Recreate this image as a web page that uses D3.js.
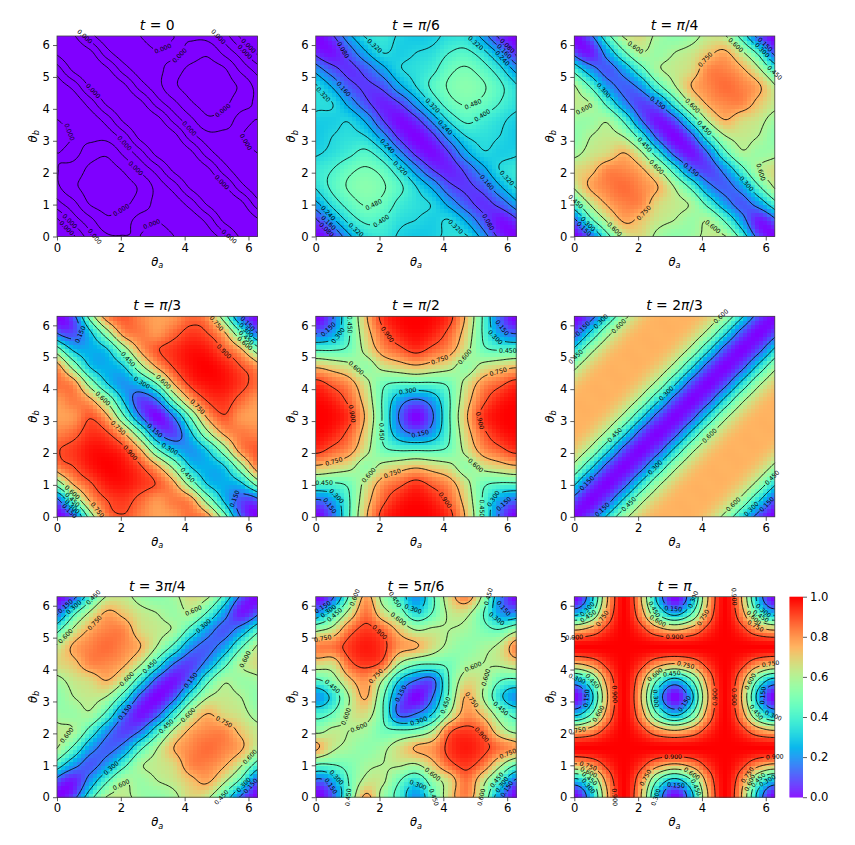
<!DOCTYPE html>
<html>
<head>
<meta charset="utf-8">
<script src="https://cdn.jsdelivr.net/npm/d3@7"></script>
<style>
body { margin: 0; background: white; }
text { font-family: "DejaVu Sans", sans-serif; }
</style>
</head>
<body>
<div id="chart"></div>
<script>
// every table: one list per theta_a column (0 to 2pi in steps of pi/6), theta_b rising
// t = 0 is all about 1e-16 in the original, so it is kept in relative units
var valuesT0 = [
    [0,.07,.21,.305,.318,.32,.36,.32,.31,.29,.20,.065,0],
    [.07,.20,.30,.385,.35,.30,.315,.28,.29,.21,.06,.02,.065],
    [.21,.30,.41,.43,.42,.36,.30,.28,.20,.065,.015,.06,.20],
    [.305,.385,.43,.46,.43,.385,.29,.20,.06,.01,.065,.21,.29],
    [.318,.35,.42,.43,.39,.30,.20,.06,.01,.06,.20,.29,.31],
    [.32,.30,.36,.385,.30,.19,.05,.005,.06,.20,.28,.28,.32],
    [.36,.315,.30,.29,.20,.05,0,.05,.20,.29,.30,.315,.36],
    [.32,.28,.28,.20,.06,.005,.05,.19,.30,.385,.36,.30,.32],
    [.31,.29,.20,.06,.01,.06,.20,.30,.39,.43,.42,.35,.318],
    [.29,.21,.065,.01,.06,.20,.29,.385,.43,.46,.43,.385,.305],
    [.20,.06,.015,.065,.20,.28,.30,.36,.42,.43,.41,.30,.21],
    [.065,.02,.06,.21,.29,.28,.315,.30,.35,.385,.30,.20,.07],
    [0,.065,.20,.29,.31,.32,.36,.32,.318,.305,.21,.07,0]
];
var valuesPi6 = [
    [0,.07,.22,.33,.36,.31,.29,.30,.34,.33,.21,.06,0],
    [.07,.22,.35,.42,.40,.34,.32,.30,.32,.23,.11,.02,.06],
    [.22,.35,.44,.49,.46,.38,.34,.31,.21,.11,.06,.11,.21],
    [.33,.42,.49,.52,.49,.42,.32,.22,.10,.07,.11,.23,.33],
    [.36,.40,.46,.49,.45,.34,.20,.08,.04,.10,.21,.32,.34],
    [.31,.34,.38,.42,.34,.19,.06,.01,.08,.22,.31,.30,.30],
    [.29,.32,.34,.32,.20,.06,0,.06,.20,.32,.34,.32,.29],
    [.30,.30,.31,.22,.08,.01,.06,.19,.34,.42,.38,.34,.31],
    [.34,.32,.21,.10,.04,.08,.20,.34,.45,.49,.46,.40,.36],
    [.33,.23,.11,.07,.10,.22,.32,.42,.49,.52,.49,.42,.33],
    [.21,.11,.06,.11,.21,.31,.34,.38,.46,.49,.44,.35,.22],
    [.06,.02,.11,.23,.32,.30,.32,.34,.40,.42,.35,.22,.07],
    [0,.06,.21,.33,.34,.30,.29,.31,.36,.33,.22,.07,0]
];
var valuesPi4 = [
    [0,.13,.41,.62,.67,.57,.53,.56,.63,.61,.40,.11,0],
    [.13,.42,.63,.77,.72,.64,.60,.55,.59,.43,.21,.03,.11],
    [.41,.63,.77,.83,.82,.68,.63,.58,.40,.21,.11,.21,.40],
    [.62,.77,.83,.86,.82,.75,.59,.41,.19,.12,.21,.43,.61],
    [.67,.72,.82,.82,.77,.62,.38,.15,.08,.19,.40,.59,.63],
    [.57,.64,.68,.75,.62,.36,.11,.02,.15,.41,.58,.55,.56],
    [.53,.60,.63,.59,.38,.11,0,.11,.38,.59,.63,.60,.53],
    [.56,.55,.58,.41,.15,.02,.11,.36,.62,.75,.68,.64,.57],
    [.63,.59,.40,.19,.08,.15,.38,.62,.77,.82,.82,.72,.67],
    [.61,.43,.21,.12,.19,.41,.59,.75,.82,.86,.83,.77,.62],
    [.40,.21,.11,.21,.40,.58,.63,.68,.82,.83,.77,.63,.41],
    [.11,.03,.21,.43,.59,.55,.60,.64,.72,.77,.63,.42,.13],
    [0,.11,.40,.61,.63,.56,.53,.57,.67,.62,.41,.13,0]
];
var valuesPi3 = [
    [0,.12,.52,.82,.89,.83,.78,.80,.86,.80,.52,.15,0],
    [.12,.47,.77,.90,.93,.87,.80,.84,.80,.54,.28,.10,.15],
    [.52,.77,.89,.97,.98,.94,.89,.77,.53,.29,.24,.28,.52],
    [.82,.90,.97,1,.98,.91,.77,.56,.30,.24,.29,.54,.80],
    [.89,.93,.98,.98,.93,.76,.47,.28,.20,.30,.53,.80,.86],
    [.83,.87,.94,.91,.76,.48,.16,.08,.28,.56,.77,.84,.80],
    [.78,.80,.89,.77,.47,.16,0,.16,.47,.77,.89,.80,.78],
    [.80,.84,.77,.56,.28,.08,.16,.48,.76,.91,.94,.87,.83],
    [.86,.80,.53,.30,.20,.28,.47,.76,.93,.98,.98,.93,.89],
    [.80,.54,.29,.24,.30,.56,.77,.91,.98,1,.97,.90,.82],
    [.52,.28,.24,.29,.53,.77,.89,.94,.98,.97,.89,.77,.52],
    [.15,.10,.28,.54,.80,.84,.80,.87,.93,.90,.77,.47,.12],
    [0,.15,.52,.80,.86,.80,.78,.83,.89,.82,.52,.12,0]
];
var valuesPi2 = [
    [0,.14,.44,.73,.93,.99,1,.99,.93,.73,.44,.14,0],
    [.14,.22,.44,.69,.87,.96,.99,.96,.87,.69,.44,.22,.14],
    [.44,.44,.48,.64,.80,.87,.93,.87,.80,.64,.48,.44,.44],
    [.73,.69,.64,.54,.64,.69,.73,.69,.64,.54,.64,.69,.73],
    [.93,.87,.80,.64,.48,.44,.44,.44,.48,.64,.80,.87,.93],
    [.99,.96,.87,.69,.44,.22,.14,.22,.44,.69,.87,.96,.99],
    [1,.99,.93,.73,.44,.14,0,.14,.44,.73,.93,.99,1],
    [.99,.96,.87,.69,.44,.22,.14,.22,.44,.69,.87,.96,.99],
    [.93,.87,.80,.64,.48,.44,.44,.44,.48,.64,.80,.87,.93],
    [.73,.69,.64,.54,.64,.69,.73,.69,.64,.54,.64,.69,.73],
    [.44,.44,.48,.64,.80,.87,.93,.87,.80,.64,.48,.44,.44],
    [.14,.22,.44,.69,.87,.96,.99,.96,.87,.69,.44,.22,.14],
    [0,.14,.44,.73,.93,.99,1,.99,.93,.73,.44,.14,0]
];
var values2Pi3 = [
    [0,.10,.33,.56,.70,.75,.75,.75,.70,.56,.33,.10,0],
    [.10,0,.10,.33,.56,.70,.75,.75,.75,.70,.56,.33,.10],
    [.33,.10,0,.10,.33,.56,.70,.75,.75,.75,.70,.56,.33],
    [.56,.33,.10,0,.10,.33,.56,.70,.75,.75,.75,.70,.56],
    [.70,.56,.33,.10,0,.10,.33,.56,.70,.75,.75,.75,.70],
    [.75,.70,.56,.33,.10,0,.10,.33,.56,.70,.75,.75,.75],
    [.75,.75,.70,.56,.33,.10,0,.10,.33,.56,.70,.75,.75],
    [.75,.75,.75,.70,.56,.33,.10,0,.10,.33,.56,.70,.75],
    [.70,.75,.75,.75,.70,.56,.33,.10,0,.10,.33,.56,.70],
    [.56,.70,.75,.75,.75,.70,.56,.33,.10,0,.10,.33,.56],
    [.33,.56,.70,.75,.75,.75,.70,.56,.33,.10,0,.10,.33],
    [.10,.33,.56,.70,.75,.75,.75,.70,.56,.33,.10,0,.10],
    [0,.10,.33,.56,.70,.75,.75,.75,.70,.56,.33,.10,0]
];
var values3Pi4 = [
    [0,.11,.40,.61,.63,.56,.53,.57,.67,.62,.41,.13,0],
    [.11,.03,.21,.43,.59,.55,.60,.64,.72,.77,.63,.42,.13],
    [.40,.21,.11,.21,.40,.58,.63,.68,.82,.83,.77,.63,.41],
    [.61,.43,.21,.12,.19,.41,.59,.75,.82,.86,.83,.77,.62],
    [.63,.59,.40,.19,.08,.15,.38,.62,.77,.82,.82,.72,.67],
    [.56,.55,.58,.41,.15,.02,.11,.36,.62,.75,.68,.64,.57],
    [.53,.60,.63,.59,.38,.11,0,.11,.38,.59,.63,.60,.53],
    [.57,.64,.68,.75,.62,.36,.11,.02,.15,.41,.58,.55,.56],
    [.67,.72,.82,.82,.77,.62,.38,.15,.08,.19,.40,.59,.63],
    [.62,.77,.83,.86,.82,.75,.59,.41,.19,.12,.21,.43,.61],
    [.41,.63,.77,.83,.82,.68,.63,.58,.40,.21,.11,.21,.40],
    [.13,.42,.63,.77,.72,.64,.60,.55,.59,.43,.21,.03,.11],
    [0,.13,.41,.62,.67,.57,.53,.56,.63,.61,.40,.11,0]
];
var values5Pi6 = [
    [0,.13,.47,.78,.56,.40,.20,.43,.68,.82,.57,.20,0],
    [.13,.22,.46,.63,.62,.46,.34,.53,.67,.85,.65,.40,.20],
    [.47,.46,.50,.57,.60,.62,.60,.72,.87,.93,.85,.65,.57],
    [.78,.63,.57,.53,.57,.66,.76,.80,.93,.97,.93,.85,.82],
    [.56,.62,.60,.57,.48,.46,.48,.60,.87,.93,.87,.67,.68],
    [.40,.46,.62,.66,.46,.12,.15,.30,.60,.80,.72,.53,.43],
    [.20,.34,.60,.76,.48,.15,0,.15,.48,.76,.60,.34,.20],
    [.43,.53,.72,.80,.60,.30,.15,.12,.46,.66,.62,.46,.40],
    [.68,.67,.87,.93,.87,.60,.48,.46,.48,.57,.60,.62,.56],
    [.82,.85,.93,.97,.93,.80,.76,.66,.57,.53,.57,.63,.78],
    [.57,.65,.85,.93,.87,.72,.60,.62,.60,.57,.50,.46,.47],
    [.20,.40,.65,.85,.67,.53,.34,.46,.62,.63,.46,.22,.13],
    [0,.20,.57,.82,.68,.43,.20,.40,.56,.78,.47,.13,0]
];
var valuesPi = [
    [0,.25,.75,1,.75,.25,0,.25,.75,1,.75,.25,0],
    [.25,.44,.81,1,.81,.44,.25,.44,.81,1,.81,.44,.25],
    [.75,.81,.94,1,.94,.81,.75,.81,.94,1,.94,.81,.75],
    [1,1,1,1,1,1,1,1,1,1,1,1,1],
    [.75,.81,.94,1,.94,.81,.75,.81,.94,1,.94,.81,.75],
    [.25,.44,.81,1,.81,.44,.25,.44,.81,1,.81,.44,.25],
    [0,.25,.75,1,.75,.25,0,.25,.75,1,.75,.25,0],
    [.25,.44,.81,1,.81,.44,.25,.44,.81,1,.81,.44,.25],
    [.75,.81,.94,1,.94,.81,.75,.81,.94,1,.94,.81,.75],
    [1,1,1,1,1,1,1,1,1,1,1,1,1],
    [.75,.81,.94,1,.94,.81,.75,.81,.94,1,.94,.81,.75],
    [.25,.44,.81,1,.81,.44,.25,.44,.81,1,.81,.44,.25],
    [0,.25,.75,1,.75,.25,0,.25,.75,1,.75,.25,0]
];

var titles = ["0", "π/6", "π/4", "π/3", "π/2", "2π/3", "3π/4", "5π/6", "π"];
var levelsT0 = [.08, .16, .24, .32, .40];
var levelsPi6 = [.08, .16, .24, .32, .40, .48];
var levelsStd = [.15, .30, .45, .60, .75, .90];
var levels2Pi3 = [.15, .30, .45, .60];
var xTicks = [0, 2, 4, 6];
var yTicks = [0, 1, 2, 3, 4, 5, 6];
var barTicks = [0, .2, .4, .6, .8, 1];

// contour labels: [level, theta_a, theta_b], snapped to the nearest bit of that contour
var labelsT0 = [[.16,.89,6.29],[.24,5.1,6.29],[.08,5.97,5.95],[.16,5.88,5.77],[.32,3.4,5.82],[.32,3.93,5.61],[.08,1.2,4.64],[.32,.54,3.41],[.40,5.08,4.09],[.24,4.14,3.36],[.32,5.74,2.86],[.24,2.15,2.93],[.32,2.57,2.23],[.40,1.97,.95],[.32,2.9,.48],[.08,5.11,1.65],[.16,.42,.47],[.08,.31,.29],[.24,1.23,.01],[.16,5.41,.01]];
var labelsPi6 = [[.08,.87,5.84],[.16,.87,4.62],[.32,.24,4.45],[.32,1.92,6.02],[.32,5.06,6.13],[.08,6,6],[.16,5.9,5.79],[.24,5.9,5.6],[.32,3.59,4.06],[.24,3.99,3.36],[.40,5.27,3.7],[.48,4.88,4.24],[.24,2.3,2.88],[.32,2.7,2.2],[.16,5.42,1.71],[.08,5.42,.45],[.32,6.02,1.84],[.48,1.76,1.11],[.40,2.07,.48],[.32,1.24,.14],[.32,4.38,.29],[.24,.4,.71],[.16,.4,.43],[.08,.32,.19]];
var labelsPi4 = [[.30,.92,4.56],[.60,.29,4.15],[.60,2,6],[.75,4.14,5.51],[.60,5.06,6],[.15,5.98,6],[.30,5.84,5.8],[.45,6.26,5.12],[.15,2.54,4.09],[.60,3.7,4.09],[.45,4.06,3.38],[.45,2.23,2.89],[.60,2.6,2.21],[.15,3.75,2.19],[.30,5.37,1.65],[.60,5.95,2.1],[.75,2.12,.8],[.60,1.24,.22],[.60,4.3,.27],[.45,.03,1.09],[.30,.45,.43],[.15,.29,.22]];
var labelsPi3 = [[.15,.63,5.74],[.75,5.03,6.1],[.15,5.97,6.02],[.30,5.92,5.81],[.45,5.92,5.61],[.60,5.86,5.42],[.90,5.34,5.3],[.45,2.15,4.88],[.30,2.67,4.2],[.60,3.32,4.2],[.60,1.43,3.7],[.75,4.37,3.43],[.75,1.94,2.81],[.90,2.32,2.04],[.15,3.06,2.7],[.30,3.58,2.18],[.45,4.16,1.39],[.15,5.57,.55],[.75,1.31,.24],[.60,.47,.76],[.45,.47,.55],[.30,.52,.35],[.15,.37,.19]];
var labelsPi2 = [[.15,.4,5.86],[.30,.66,5.71],[.45,1.06,6.04],[.90,2.23,5.73],[.15,5.84,5.92],[.30,5.63,5.65],[.45,6,5.24],[.75,3.85,4.97],[.60,4.53,5.16],[.60,1.13,4.52],[.75,5.74,4.52],[.30,2.86,3.96],[.90,1.18,3.25],[.90,5.11,3],[.45,2.07,2.67],[.15,3.28,2.57],[.75,.56,1.76],[.60,5.18,1.78],[.60,1.76,1.15],[.75,2.42,1.26],[.45,.24,1.08],[.30,.66,.63],[.15,.5,.37],[.90,4.06,.55],[.30,5.58,.58],[.15,5.9,.42],[.45,5.21,.26]];
var labels2Pi3 = [[.15,.26,5.92],[.30,.84,6.13],[.60,1.36,6],[.45,0,5.08],[.60,4.6,6.28],[.30,2.83,3.93],[.45,1.23,2.59],[.15,.37,1.1],[.60,4.21,2.59],[.30,2.53,1.57],[.15,.84,.26],[.45,1.68,.42],[.60,4.97,.42],[.45,6.18,1.26],[.30,5.5,.26],[.15,6.02,.42]];
var labels3Pi4 = [[.15,.29,5.99],[.30,.55,5.94],[.45,1.13,6.28],[.60,.24,5.08],[.75,1.11,5.52],[.60,4.17,6.02],[.30,4.59,5.36],[.60,6,4.26],[.45,2.91,4.08],[.60,2.21,3.71],[.15,4.08,3.77],[.15,2.2,2.57],[.45,3.38,2.27],[.60,4.06,2.64],[.75,5.27,2.43],[.60,.27,2.01],[.30,1.68,.93],[.60,2.07,.34],[.60,6.05,1.25],[.45,5.16,.02],[.30,5.79,.44],[.15,6.05,.39]];
var labels5Pi6 = [[.15,.23,5.9],[.30,.39,5.81],[.45,.6,5.71],[.60,1.17,6.28],[.75,.23,5],[.45,2.53,6.19],[.30,3.11,6],[.60,2.64,5.63],[.90,1.93,5.08],[.45,5.41,6.28],[.15,5.88,5.9],[.30,5.68,5.63],[.45,.54,3.49],[.15,2.59,3.28],[.75,2.06,3.61],[.60,4.94,4.06],[.60,5.44,3.75],[.75,5.1,3.12],[.45,5.78,2.75],[.60,.86,2.54],[.30,3.21,2.49],[.45,3.95,2.94],[.60,1.33,2.21],[.90,5.12,1.9],[.75,6.04,1.29],[.60,3.69,.76],[.30,.65,.61],[.15,.44,.35],[.45,.91,0],[.30,3.16,.29],[.45,3.74,0],[.60,5.1,0],[.45,5.68,.55],[.30,5.83,.4],[.15,5.99,.29]];
var labelsPi = [[.30,.44,5.88],[.45,.39,5.73],[.75,.91,5.57],[.15,3.11,5.9],[.30,3.68,6.2],[.45,2.48,5.88],[.60,2.64,5.52],[.75,3.99,5.67],[.90,4.99,6.28],[.30,5.88,5.83],[.45,5.88,5.68],[.60,5.62,5.57],[.75,5.68,5.36],[.90,0,5.05],[.90,3.16,5.05],[.75,3.5,4.16],[.75,6.15,4.21],[.60,2.51,3.86],[.45,3.06,3.9],[.30,.07,3.74],[.45,.55,3.63],[.60,5.47,3.63],[.30,2.51,3.11],[.15,3.42,2.95],[.15,.36,3.11],[.15,5.88,3.21],[.90,1.28,3.21],[.90,4.39,3.16],[.90,5.05,3.16],[.60,.73,2.64],[.45,5.73,2.69],[.30,6.25,2.56],[.75,.07,2.11],[.90,3.11,1.28],[.90,6.28,1.28],[.75,.42,.86],[.60,.39,.65],[.45,.39,.47],[.30,.47,.34],[.75,2.17,.65],[.60,3.69,.73],[.45,3.84,.34],[.15,3.18,.41],[.30,2.53,.02],[.90,1.28,.02],[.75,5.45,.7],[.60,5.47,.47],[.45,5.73,.58],[.30,6,.58]];

var allValues = [valuesT0, valuesPi6, valuesPi4, valuesPi3, valuesPi2, values2Pi3, values3Pi4, values5Pi6, valuesPi];
var allLevels = [levelsT0, levelsPi6, levelsStd, levelsStd, levelsStd, levels2Pi3, levelsStd, levelsStd, levelsStd];
var allLabels = [labelsT0, labelsPi6, labelsPi4, labelsPi3, labelsPi2, labels2Pi3, labels3Pi4, labels5Pi6, labelsPi];

var svgWidth = 855;
var svgHeight = 845;
var plotSize = 200.5;
var colLeft = [57, 315.7, 574.3];
var rowTop = [36, 316.3, 596.7];
var TWO_PI = Math.PI * 2;
var heatCells = 50;
var lineCells = 145;
var labelGap = 9.5;

var svg = d3.select("#chart")
    .append("svg")
    .attr("width", svgWidth)
    .attr("height", svgHeight)
    .style("display", "block");

// matplotlib's rainbow colormap
function rainbow(x) {
    return d3.rgb(
        255 * Math.abs(2 * x - 0.5),
        255 * Math.sin(x * Math.PI),
        255 * Math.cos(x * Math.PI / 2)
    ).formatRgb();
}
var colorScale = d3.scaleSequential(rainbow).domain([0, 1]).clamp(true);

function cubic(p0, p1, p2, p3, t) {
    return p1 + 0.5 * t * (p2 - p0 + t * (2 * p0 - 5 * p1 + 4 * p2 - p3 + t * (3 * (p1 - p2) + p3 - p0)));
}

// smooth the table for display, the table wraps round at 2pi
function sampleAt(table, a, b) {
    var u = a / (Math.PI / 6), v = b / (Math.PI / 6);
    var iu = Math.min(Math.floor(u), 11), iv = Math.min(Math.floor(v), 11);
    var tu = u - iu, tv = v - iv;
    var rows = [-1, 0, 1, 2].map(function(di) {
        var col = table[(iu + di + 12) % 12];
        return cubic(col[(iv - 1 + 12) % 12], col[iv % 12], col[(iv + 1) % 12], col[(iv + 2) % 12], tv);
    });
    return cubic(rows[0], rows[1], rows[2], rows[3], tu);
}

// d3.contours closes rings along the grid edge, so cut those stretches off
function ringToLines(ring, n) {
    function onEdge(p) {
        return p[0] < 0.499 || p[1] < 0.499 || p[0] > n - 0.499 || p[1] > n - 0.499;
    }
    var start = -1;
    for (var i = 0; i < ring.length; i++) {
        if (onEdge(ring[i])) { start = i; break; }
    }
    if (start < 0) return [{ pts: ring.slice(), closed: true }];
    var lines = [], cur = [];
    for (var k = 1; k <= ring.length; k++) {
        var p = ring[(start + k) % ring.length];
        if (onEdge(p)) {
            if (cur.length > 1) lines.push({ pts: cur, closed: false });
            cur = [];
        } else {
            cur.push(p);
        }
    }
    if (cur.length > 1) lines.push({ pts: cur, closed: false });
    return lines;
}

function drawPanel(idx) {
    var table = allValues[idx];
    var levels = allLevels[idx];
    var labels = allLabels[idx];
    var colorFactor = idx === 0 ? 1e-16 : 1;

    var xScale = d3.scaleLinear().domain([0, TWO_PI]).range([0, plotSize]);
    var yScale = d3.scaleLinear().domain([0, TWO_PI]).range([plotSize, 0]);

    var g = svg.append("g")
        .attr("transform", `translate(${colLeft[idx % 3]}, ${rowTop[Math.floor(idx / 3)]})`);

    var cells = [];
    d3.range(heatCells).forEach(function(i) {
        d3.range(heatCells).forEach(function(j) {
            var a = i / heatCells * TWO_PI, b = j / heatCells * TWO_PI;
            var mid = TWO_PI / heatCells / 2;
            cells.push({ a: a, b: b, v: sampleAt(table, a + mid, b + mid) });
        });
    });
    var step = TWO_PI / heatCells;
    g.append("g").selectAll("rect")
        .data(cells)
        .enter()
        .append("rect")
        .attr("x", d => xScale(d.a))
        .attr("y", d => yScale(d.b + step))
        .attr("width", xScale(step) + 0.5)
        .attr("height", xScale(step) + 0.5)
        .attr("shape-rendering", "crispEdges")
        .attr("fill", d => colorScale(d.v * colorFactor));

    // fine grid for the contour lines
    var n = lineCells;
    var grid = new Array(n * n);
    for (var j = 0; j < n; j++) {
        for (var i = 0; i < n; i++) {
            grid[j * n + i] = sampleAt(table, i / (n - 1) * TWO_PI, j / (n - 1) * TWO_PI);
        }
    }
    var contourGen = d3.contours().size([n, n]);
    var toPx = p => [
        xScale((p[0] - 0.5) / (n - 1) * TWO_PI),
        yScale((p[1] - 0.5) / (n - 1) * TWO_PI)
    ];

    var allLines = [];
    levels.forEach(function(level) {
        var mp = contourGen.contour(grid, level);
        mp.coordinates.forEach(function(poly) {
            poly.forEach(function(ring) {
                ringToLines(ring, n).forEach(function(l) {
                    var pts = l.pts.map(toPx);
                    allLines.push({ level: level, pts: pts, closed: l.closed, cut: pts.map(() => false) });
                });
            });
        });
    });

    // place labels and open a gap in the line under each one
    var placed = [];
    labels.forEach(function(lab) {
        var tx = xScale(lab[1]), ty = yScale(lab[2]);
        var best = null, bestDist = Infinity, bestK = 0;
        allLines.forEach(function(l) {
            if (l.level !== lab[0]) return;
            l.pts.forEach(function(p, k) {
                var dd = (p[0] - tx) * (p[0] - tx) + (p[1] - ty) * (p[1] - ty);
                if (dd < bestDist) { bestDist = dd; best = l; bestK = k; }
            });
        });
        if (!best) return;
        var ends = [-1, 1].map(function(dir) {
            var m = best.pts.length, k = bestK, walked = 0, guard = 0;
            best.cut[k] = true;
            while (walked < labelGap && guard < m) {
                var next = k + dir;
                if (best.closed) next = (next + m) % m;
                else if (next < 0 || next >= m) break;
                walked += Math.hypot(best.pts[next][0] - best.pts[k][0], best.pts[next][1] - best.pts[k][1]);
                k = next;
                best.cut[k] = true;
                guard++;
            }
            return best.pts[k];
        });
        var angle = Math.atan2(ends[1][1] - ends[0][1], ends[1][0] - ends[0][0]) * 180 / Math.PI;
        if (angle > 90) angle -= 180;
        if (angle < -90) angle += 180;
        placed.push({ x: best.pts[bestK][0], y: best.pts[bestK][1], angle: angle, text: d3.format(".3f")(lab[0] * colorFactor) });
    });

    var line = d3.line()
        .x(d => d[0])
        .y(d => d[1]);

    g.append("g").selectAll("path")
        .data(allLines)
        .enter()
        .append("path")
        .attr("fill", "none")
        .attr("stroke", "#000")
        .attr("stroke-width", 0.85)
        .attr("d", function(l) {
            var pts = l.closed ? l.pts.concat([l.pts[0]]) : l.pts;
            var cut = l.closed ? l.cut.concat([l.cut[0]]) : l.cut;
            return line.defined((d, i) => !cut[i])(pts);
        });

    // frame and axes
    g.append("rect")
        .attr("width", plotSize)
        .attr("height", plotSize)
        .attr("fill", "none")
        .attr("stroke", "#444")
        .attr("stroke-width", 0.8);

    var bottomAxis = d3.axisBottom(xScale).tickValues(xTicks).tickFormat(d3.format("d")).tickSize(4).tickPadding(3).tickSizeOuter(0);
    var leftAxis = d3.axisLeft(yScale).tickValues(yTicks).tickFormat(d3.format("d")).tickSize(4).tickPadding(3).tickSizeOuter(0);

    var xg = g.append("g").attr("transform", `translate(0, ${plotSize})`).call(bottomAxis);
    var yg = g.append("g").call(leftAxis);
    [xg, yg].forEach(function(a) {
        a.select(".domain").remove();
        a.selectAll("text").style("font-size", "11.6px").style("font-family", '"DejaVu Sans"').attr("fill", "#000");
        a.selectAll("line").attr("stroke", "#333").attr("stroke-width", 0.8);
    });

    g.append("g").selectAll("text")
        .data(placed)
        .enter()
        .append("text")
        .attr("transform", d => `translate(${d.x}, ${d.y}) rotate(${d.angle})`)
        .attr("text-anchor", "middle")
        .attr("dy", "0.36em")
        .style("font-size", "6.2px")
        .attr("fill", "#000")
        .text(d => d.text);

    // title, italic t and pi
    var title = g.append("text")
        .attr("x", plotSize / 2)
        .attr("y", -6)
        .attr("text-anchor", "middle")
        .style("font-size", "13.9px");
    title.append("tspan").style("font-style", "italic").text("t");
    title.append("tspan").text(" = ");
    titles[idx].split(/(π)/).forEach(function(part) {
        if (!part) return;
        title.append("tspan").style("font-style", part === "π" ? "italic" : "normal").text(part);
    });

    // axis labels
    var xl = g.append("text")
        .attr("x", plotSize / 2)
        .attr("y", plotSize + 29)
        .attr("text-anchor", "middle")
        .style("font-size", "11.6px")
        .style("font-style", "italic");
    xl.append("tspan").text("θ");
    xl.append("tspan").attr("dy", 2.5).style("font-size", "8.2px").text("a");

    var yl = g.append("text")
        .attr("transform", `translate(-20.5, ${plotSize / 2}) rotate(-90)`)
        .attr("text-anchor", "middle")
        .style("font-size", "11.6px")
        .style("font-style", "italic");
    yl.append("tspan").text("θ");
    yl.append("tspan").attr("dy", 2.5).style("font-size", "8.2px").text("b");
}

d3.range(9).forEach(drawPanel);

// colour bar
var barScale = d3.scaleLinear().domain([0, 1]).range([200.5, 0]);
var barG = svg.append("g").attr("transform", "translate(789.5, 596.7)");
barG.selectAll("rect")
    .data(d3.range(200))
    .enter()
    .append("rect")
    .attr("x", 0)
    .attr("y", d => barScale((d + 1) / 200))
    .attr("width", 13.5)
    .attr("height", 1.3)
    .attr("fill", d => colorScale((d + 0.5) / 200));
var barAxis = d3.axisRight(barScale).tickValues(barTicks).tickFormat(d3.format(".1f")).tickSize(4).tickPadding(3).tickSizeOuter(0);
var barAxisG = barG.append("g").attr("transform", "translate(13.5, 0)").call(barAxis);
barAxisG.select(".domain").remove();
barAxisG.selectAll("text").style("font-size", "11.6px").style("font-family", '"DejaVu Sans"').attr("fill", "#000");
barAxisG.selectAll("line").attr("stroke", "#333").attr("stroke-width", 0.8);
</script>
</body>
</html>
